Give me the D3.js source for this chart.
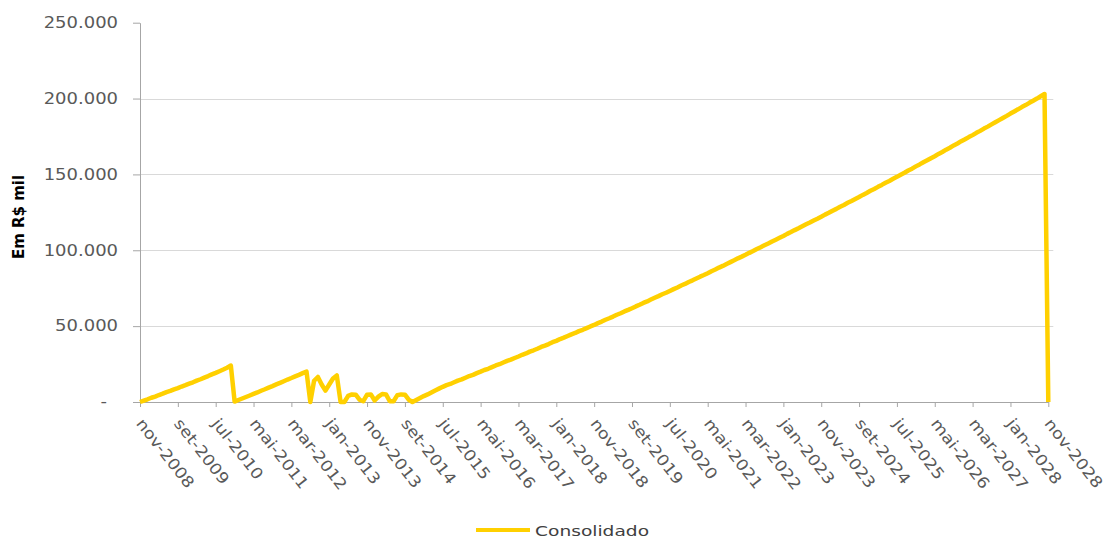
<!DOCTYPE html>
<html><head><meta charset="utf-8">
<script src="https://cdn.jsdelivr.net/npm/d3@7"></script>
<style>body{margin:0;background:#fff} svg{display:block}</style>
</head><body>
<svg id="chart" width="1105" height="539"></svg>
<script>
// ---- DATA ----
const monthAbbr = ["jan","fev","mar","abr","mai","jun","jul","ago","set","out","nov","dez"];
const firstMonthIndex = 10;   // nov
const firstYear = 2008;
const monthCount = 241;       // nov-2008 .. nov-2028
const categories = d3.range(monthCount).map(i => {
  const k = firstMonthIndex + i;
  return monthAbbr[k % 12] + "-" + (firstYear + Math.floor(k / 12));
});
const tickLabels = ["nov-2008","set-2009","jul-2010","mai-2011","mar-2012","jan-2013","nov-2013",
  "set-2014","jul-2015","mai-2016","mar-2017","jan-2018","nov-2018","set-2019","jul-2020","mai-2021",
  "mar-2022","jan-2023","nov-2023","set-2024","jul-2025","mai-2026","mar-2027","jan-2028","nov-2028"];
const yTicks = [0, 50000, 100000, 150000, 200000, 250000];
const seriesName = "Consolidado";
// values in R$ mil, one per month (nov-2008 .. nov-2028)
const consolidado = [
  0, 900, 1800, 2800, 3600, 4600, 5500, 6500, 7300, 8300, 9200, 10200, 11100, 12100, 13000,
  14100, 15000, 16100, 17100, 18200, 19200, 20300, 21400, 22600, 24000,
  300, 1300, 2300, 3300, 4300, 5300, 6300, 7400, 8400, 9500, 10500, 11600, 12600, 13700,
  14800, 15800, 16900, 17900, 19000, 20000,
  0, 14000, 16500, 11500, 7500, 11500, 15500, 17500, 0,
  0, 4000, 5000, 4800, 1500, 500, 4800, 5000, 1000, 3500, 5300, 5000, 500, 500, 4500, 5000, 4800, 1500,
  0, 1300, 2600, 3900, 5000, 6300, 7600, 8800,
  10000, 11100, 11900, 13000, 14100, 14900, 16000, 17100, 17900, 19000,
  20000, 21100, 21900, 23000, 24100, 24900, 26000, 27100, 27900, 29000,
  30000, 31100, 32000, 33200, 34100, 35100, 36300, 37200, 38200, 39400,
  40300, 41500, 42400, 43500, 44600, 45500, 46700, 47600, 48700, 49800,
  50800, 52000, 53000, 54200, 55200, 56300, 57500, 58500, 59700, 60700,
  61800, 63000, 64100, 65300, 66300, 67500, 68700, 69800, 71000, 72000,
  73200, 74400, 75500, 76800, 77800, 79100, 80200, 81400, 82600, 83700,
  84900, 86200, 87300, 88600, 89700, 91000, 92200, 93400, 94700, 95800,
  97000, 98300, 99500, 100800, 102000, 103300, 104500, 105800, 107000, 108200,
  109400, 110800, 112000, 113300, 114500, 115800, 117100, 118300, 119600, 120800,
  122100, 123500, 124700, 126100, 127300, 128700, 129900, 131300, 132500, 133800,
  135100, 136500, 137800, 139200, 140400, 141800, 143100, 144500, 145700, 147100,
  148400, 149800, 151100, 152600, 153800, 155300, 156600, 158000, 159300, 160700,
  162000, 163500, 164800, 166300, 167600, 169100, 170400, 171900, 173200, 174600,
  175900, 177400, 178700, 180200, 181500, 183000, 184400, 185800, 187200, 188600,
  190100, 191500, 192900, 194400, 195700, 197200, 198600, 200000, 201500, 203000,
  0
];

// ---- CHART ----
const FONT = "'DejaVu Sans', Verdana, sans-serif";
const svg = d3.select("#chart");
const plotLeft = 140, plotRight = 1048.3, plotTop = 22.7, plotBottom = 402;
const x = d3.scalePoint().domain(categories).range([plotLeft, plotRight]);
const y = d3.scaleLinear().domain([0, 250000]).range([plotBottom, plotTop]);
const loc = d3.formatLocale({decimal: ",", thousands: ".", grouping: [3], currency: ["R$ ", ""]});
const fmtNum = loc.format(",.0f");
const fmt = v => v === 0 ? "-" : fmtNum(v);

// gridlines
svg.append("g").selectAll("line")
  .data(yTicks.filter(v => v > 0 && v < 250000))
  .join("line")
  .attr("x1", plotLeft).attr("x2", plotRight + 5)
  .attr("y1", d => Math.round(y(d)) + 0.5).attr("y2", d => Math.round(y(d)) + 0.5)
  .attr("stroke", "#d9d9d9").attr("stroke-width", 1);

// y axis
const yAxis = svg.append("g").attr("transform", `translate(${plotLeft},0)`)
  .call(d3.axisLeft(y).tickValues(yTicks).tickSize(7).tickSizeOuter(0).tickFormat(fmt));
yAxis.select(".domain").attr("stroke", "#a6a6a6");
yAxis.selectAll(".tick line").attr("stroke", "#a6a6a6");
yAxis.selectAll(".tick text")
  .attr("font-family", FONT).attr("font-size", 15).attr("fill", "#595959")
  .attr("x", d => d === 0 ? -33 / 1.2 : -22 / 1.2)
  .attr("transform", "scale(1.2,1)");

// x axis
const xAxis = svg.append("g").attr("transform", `translate(0,${plotBottom})`)
  .call(d3.axisBottom(x).tickValues(tickLabels).tickSize(5).tickSizeOuter(0));
xAxis.select(".domain").attr("stroke", "#a6a6a6");
xAxis.selectAll(".tick line").attr("stroke", "#a6a6a6");
xAxis.selectAll(".tick text")
  .attr("font-family", FONT).attr("font-size", 15.5).attr("fill", "#595959")
  .attr("text-anchor", "start").attr("x", 0).attr("y", 0).attr("dy", "0.35em")
  .attr("transform", "translate(-0.7,18.5) rotate(52) scale(1.14,1)");

// series line
const line = d3.line().x((d, i) => x(categories[i])).y(d => y(d));
svg.append("path").datum(consolidado)
  .attr("d", line).attr("fill", "none")
  .attr("stroke", "#FFD000").attr("stroke-width", 4.5)
  .attr("stroke-linejoin", "round").attr("stroke-linecap", "butt");

// y title
svg.append("text")
  .attr("transform", "translate(24,217) rotate(-90)")
  .attr("text-anchor", "middle")
  .attr("font-family", FONT).attr("font-size", 15).attr("font-weight", "bold").attr("fill", "#000")
  .text("Em R$ mil");

// legend
const lg = svg.append("g").attr("transform", "translate(476,530)");
lg.append("line").attr("x1", 0).attr("x2", 54).attr("y1", 0).attr("y2", 0)
  .attr("stroke", "#FFD000").attr("stroke-width", 4);
lg.append("text").attr("x", 0).attr("y", 0)
  .attr("transform", "translate(59,5.5) scale(1.33,1)")
  .attr("font-family", FONT).attr("font-size", 14).attr("fill", "#404040")
  .text(seriesName);
</script>
</body></html>
